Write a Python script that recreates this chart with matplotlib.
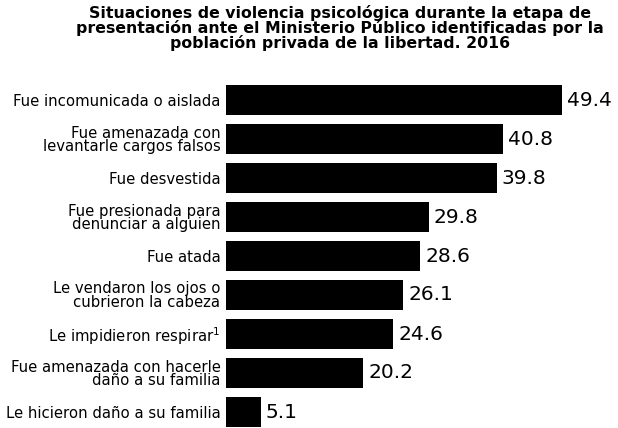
import matplotlib
matplotlib.use("Agg")
import matplotlib.pyplot as plt

categories = [
    "Fue incomunicada o aislada",
    "Fue amenazada con\nlevantarle cargos falsos",
    "Fue desvestida",
    "Fue presionada para\ndenunciar a alguien",
    "Fue atada",
    "Le vendaron los ojos o\ncubrieron la cabeza",
    "Le impidieron respirar$^{1}$",
    "Fue amenazada con hacerle\ndaño a su familia",
    "Le hicieron daño a su familia",
]
values = [49.4, 40.8, 39.8, 29.8, 28.6, 26.1, 24.6, 20.2, 5.1]
title = ("Situaciones de violencia psicológica durante la etapa de\n"
         "presentación ante el Ministerio Público identificadas por la\n"
         "población privada de la libertad. 2016")

fig = plt.figure(figsize=(6.18, 4.28), dpi=100)
fig.patch.set_facecolor("white")
ax = fig.add_axes([226/618, (428-431.5)/428, (618-226)/618, 351/428])
ypos = list(range(len(values)))
ax.barh(ypos, values, height=0.75, color="black")
ax.set_ylim(len(values)-0.5, -0.5)
ax.set_xlim(0, 392/6.8)
ax.set_yticks(ypos)
ax.set_yticklabels(categories, fontsize=10.7, family="DejaVu Sans", linespacing=0.88)
ax.tick_params(axis="y", length=0, pad=4)
ax.set_xticks([])
for s in ax.spines.values():
    s.set_visible(False)
for y, v in zip(ypos, values):
    ax.text(v + 0.7, y, f"{v:.1f}", va="center", ha="left", fontsize=14.5, family="DejaVu Sans")
fig.text(0.55, 0.988, title, ha="center", va="top", fontsize=11.3, fontweight="bold",
         family="DejaVu Sans", linespacing=0.92)
fig.savefig("out.png", dpi=100)
